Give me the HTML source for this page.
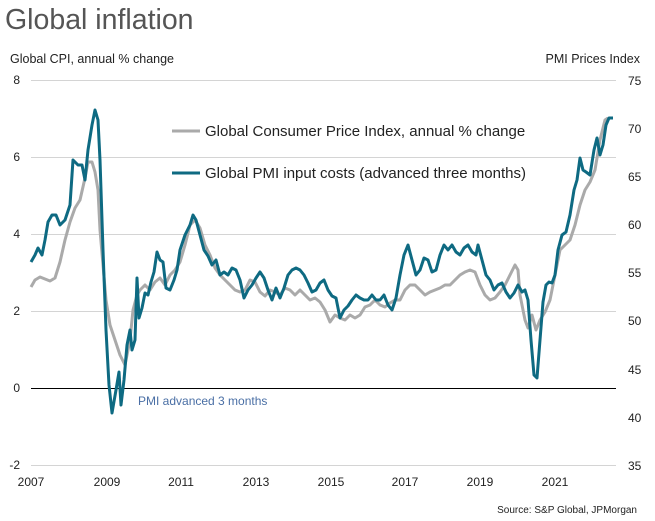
<!DOCTYPE html>
<html><head><meta charset="utf-8"><style>
body{margin:0;background:#fff;}
svg{display:block;font-family:"Liberation Sans",Arial,sans-serif;}
</style></head><body>
<svg width="655" height="521" viewBox="0 0 655 521">
<text x="5" y="29" font-size="28.5" fill="#555">Global inflation</text>
<text x="10" y="63" font-size="12.5" fill="#222">Global CPI, annual % change</text>
<text x="640" y="63" font-size="12.5" fill="#222" text-anchor="end">PMI Prices Index</text>
<g stroke="#d4d4d4" stroke-width="1">
<line x1="31" y1="80.5" x2="616" y2="80.5"/><line x1="31" y1="157.5" x2="616" y2="157.5"/>
<line x1="31" y1="234.5" x2="616" y2="234.5"/><line x1="31" y1="311.5" x2="616" y2="311.5"/>
<line x1="31" y1="465.5" x2="616" y2="465.5"/></g>
<line x1="31" y1="388.5" x2="616" y2="388.5" stroke="#000" stroke-width="1"/>
<g font-size="12" fill="#222" text-anchor="end">
<text x="20" y="84">8</text><text x="20" y="161">6</text><text x="20" y="238">4</text><text x="20" y="315">2</text><text x="20" y="392">0</text><text x="20" y="469">-2</text></g>
<g font-size="12" fill="#222">
<text x="628" y="85">75</text><text x="628" y="133">70</text><text x="628" y="181">65</text><text x="628" y="229">60</text><text x="628" y="277">55</text><text x="628" y="325">50</text><text x="628" y="374">45</text><text x="628" y="422">40</text><text x="628" y="470">35</text></g>
<g font-size="12" fill="#222" text-anchor="middle">
<text x="31" y="486">2007</text><text x="107" y="486">2009</text><text x="181" y="486">2011</text><text x="256" y="486">2013</text><text x="331" y="486">2015</text><text x="405" y="486">2017</text><text x="480" y="486">2019</text><text x="555" y="486">2021</text></g>
<text x="637" y="513" font-size="10" fill="#222" text-anchor="end">Source: S&amp;P Global, JPMorgan</text>
<text x="138" y="405" font-size="12" fill="#4a6fa5">PMI advanced 3 months</text>
<polyline fill="none" stroke="#aaaaaa" stroke-width="3" stroke-linejoin="round" points="31,287 35,280 40,277 45,279 50,281 55,278 60,262 65,240 70,222 75,208 80,200 85,178 88,162 92,162 95,172 98,190 100,230 103,265 106,300 110,325 115,340 120,355 125,365 130,340 133,310 137,295 140,290 145,285 150,290 155,282 160,278 165,285 170,275 175,270 180,262 185,245 190,225 195,220 200,228 205,245 210,255 215,268 220,275 225,280 230,285 235,290 240,292 245,290 250,280 255,282 260,292 265,296 270,290 275,292 280,295 285,288 290,290 295,295 300,290 305,295 310,300 315,298 320,302 325,310 330,322 335,315 340,318 345,320 350,315 355,318 360,315 365,307 370,305 375,300 380,305 385,307 390,303 395,300 400,300 405,290 410,285 415,285 420,290 425,295 430,292 435,290 440,288 445,285 450,285 455,280 460,275 465,272 470,270 475,272 480,285 485,295 490,300 495,298 500,292 505,285 510,275 515,265 518,270 520,295 525,320 528,328 532,315 536,330 540,320 545,312 550,300 555,275 560,250 565,245 570,240 575,225 580,205 585,190 590,182 595,170 600,140 605,120 608,118"/>
<polyline fill="none" stroke="#0e6a82" stroke-width="3" stroke-linejoin="round" points="31,262 35,255 38,248 42,255 45,240 48,222 52,215 56,215 60,225 65,220 70,205 73,160 78,165 82,165 85,180 88,150 92,125 95,110 98,120 100,160 103,250 106,330 109,385 112,413 116,390 119,372 121,405 124,380 127,345 130,330 132,350 135,340 137,278 139,318 142,308 145,293 148,295 151,282 154,272 157,252 160,260 163,262 166,288 170,290 174,280 177,270 180,250 185,235 190,225 193,215 196,220 200,235 204,250 208,256 212,265 216,260 220,275 224,272 228,275 232,268 236,270 240,280 244,298 248,290 252,285 256,278 260,272 264,278 268,290 272,300 276,288 280,298 284,288 288,275 292,270 296,268 300,270 304,275 308,283 312,292 316,290 320,283 324,280 328,290 332,296 336,298 340,318 344,310 348,306 352,300 356,295 360,298 364,300 368,300 372,295 376,300 380,300 384,295 388,305 392,310 396,298 400,275 404,255 408,245 412,260 416,275 420,270 424,258 428,260 432,272 436,270 440,255 444,245 448,250 452,245 456,252 460,255 464,248 468,245 472,252 476,255 478,245 482,260 486,275 490,280 494,290 498,285 502,283 506,292 510,298 514,293 518,285 522,292 525,290 528,300 531,340 534,375 537,378 540,340 543,302 546,285 549,282 552,283 555,275 558,250 562,235 566,232 570,215 574,190 577,180 580,158 583,170 586,172 590,175 594,150 597,138 600,155 603,145 606,125 609,118 613,118"/>
<line x1="172" y1="131" x2="200" y2="131" stroke="#aaaaaa" stroke-width="3"/>
<text x="205" y="136" font-size="15" fill="#222">Global Consumer Price Index, annual % change</text>
<line x1="172" y1="173" x2="200" y2="173" stroke="#0e6a82" stroke-width="3"/>
<text x="205" y="178" font-size="15" fill="#222">Global PMI input costs (advanced three months)</text>
</svg>
</body></html>
